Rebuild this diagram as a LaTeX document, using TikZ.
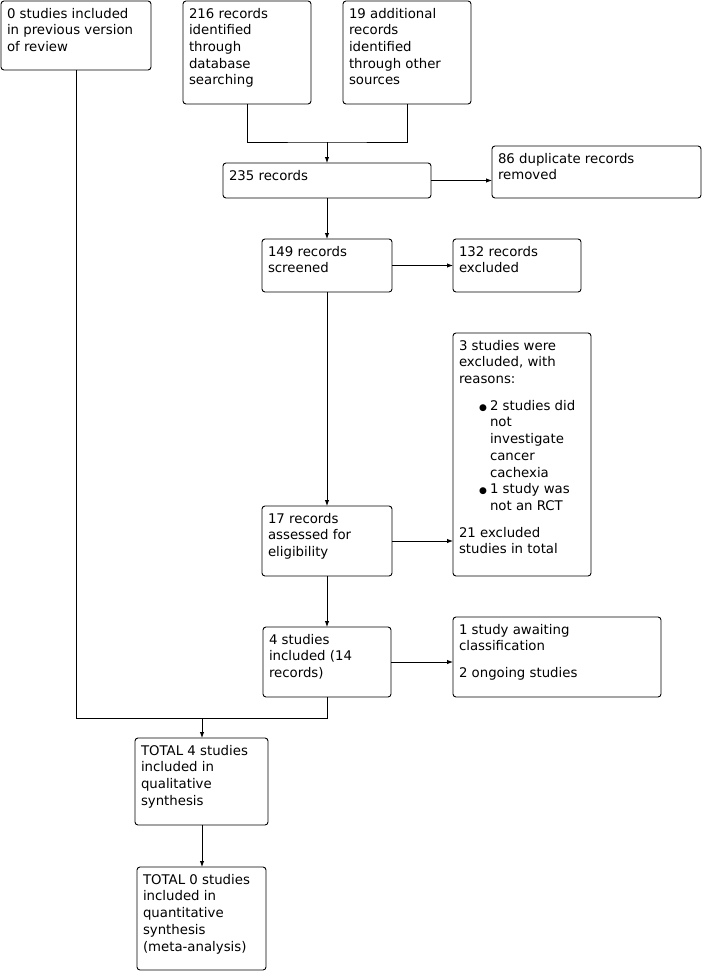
\documentclass[tikz,border=0pt]{standalone}
\usepackage{fontspec}
\setmainfont{DejaVu Sans}
\usetikzlibrary{arrows.meta,calc}

\newcommand{\boxfont}{\fontsize{13.3}{16.7}\selectfont}
\newcommand{\boxtext}[3]{\parbox[c][\dimexpr#2pt-11pt\relax][t]{\dimexpr#1pt-12pt\relax}{\raggedright\rightskip=4pt plus 1fil\strut#3}}
\newcommand{\bul}{\par\noindent\hangindent=31pt\hangafter=1\hspace*{31pt}\llap{{\fontsize{9}{9}\selectfont ●}\hspace{3pt}}}

\begin{document}
\begin{tikzpicture}[x=1pt,y=-1pt,
  flowbox/.style={draw, line width=0.9pt, rounded corners=3pt, anchor=north west,
                  inner xsep=6pt, inner ysep=5.5pt, outer sep=0pt, font=\boxfont},
  arr/.style={-{Latex[length=6pt,width=4.5pt]}},
  conn/.style={line width=0.9pt}
]
\useasboundingbox (0,0) rectangle (706,971);

%% identification
\node[flowbox] (prev)   at (1,1)     {\boxtext{150}{69}{0 studies included in previous version of review}};
\node[flowbox] (db)     at (183,1)   {\boxtext{128}{103}{216 records identified through database searching}};
\node[flowbox] (other)  at (343,1)   {\boxtext{128}{103}{19 additional records identified through other sources}};
\node[flowbox] (rec)    at (223,163) {\boxtext{208}{35}{235 records}};
\node[flowbox] (dup)    at (492,146) {\boxtext{209}{52}{86 duplicate records removed}};

%% screening
\node[flowbox] (scr)    at (262,239) {\boxtext{130}{53}{149 records screened}};
\node[flowbox] (excl)   at (453,239) {\boxtext{128}{53}{132 records excluded}};

%% eligibility
\node[flowbox] (elig)   at (262,506) {\boxtext{130}{70}{17 records assessed for eligibility}};
\node[flowbox] (reason) at (453,333) {\boxtext{138}{243}{3 studies were excluded, with reasons:\par\vspace{10pt}%
  \bul 2 studies did not investigate cancer cachexia
  \bul 1 study was not an RCT\par\vspace{10pt}%
  \noindent 21 excluded studies in total}};

%% included
\node[flowbox] (incl)   at (263,627) {\boxtext{128}{70}{4 studies included (14 records)}};
\node[flowbox] (await)  at (453,617) {\boxtext{208}{80}{1 study awaiting classification\par\vspace{10pt}2 ongoing studies}};
\node[flowbox] (qual)   at (135,738) {\boxtext{133}{87}{TOTAL 4 studies included in qualitative synthesis}};
\node[flowbox] (quant)  at (137,867) {\boxtext{129}{103}{TOTAL 0 studies included in quantitative synthesis (meta-analysis)}};

\coordinate (join1) at (327,142);
\coordinate (join2) at (202,718);

\draw[conn] (db.south) |- (join1) -| (other.south);
\draw[conn,arr] (join1) -- (rec.north);
\draw[conn,arr] (rec.east) -- (rec.east -| dup.west);
\draw[conn,arr] (rec.south) -- (scr.north);
\draw[conn,arr] (scr.east) -- (excl.west);
\draw[conn,arr] (scr.south) -- (elig.north);
\draw[conn,arr] (elig.east) -- (elig.east -| reason.west);
\draw[conn,arr] (elig.south) -- (elig.south |- incl.north);
\draw[conn,arr] (incl.east) -- (incl.east -| await.west);
\draw[conn] (incl.south) |- (prev.south |- join2) -- (prev.south);
\draw[conn,arr] (join2) -- (join2 |- qual.north);
\draw[conn,arr] (join2 |- qual.south) -- (join2 |- quant.north);
\end{tikzpicture}
\end{document}
